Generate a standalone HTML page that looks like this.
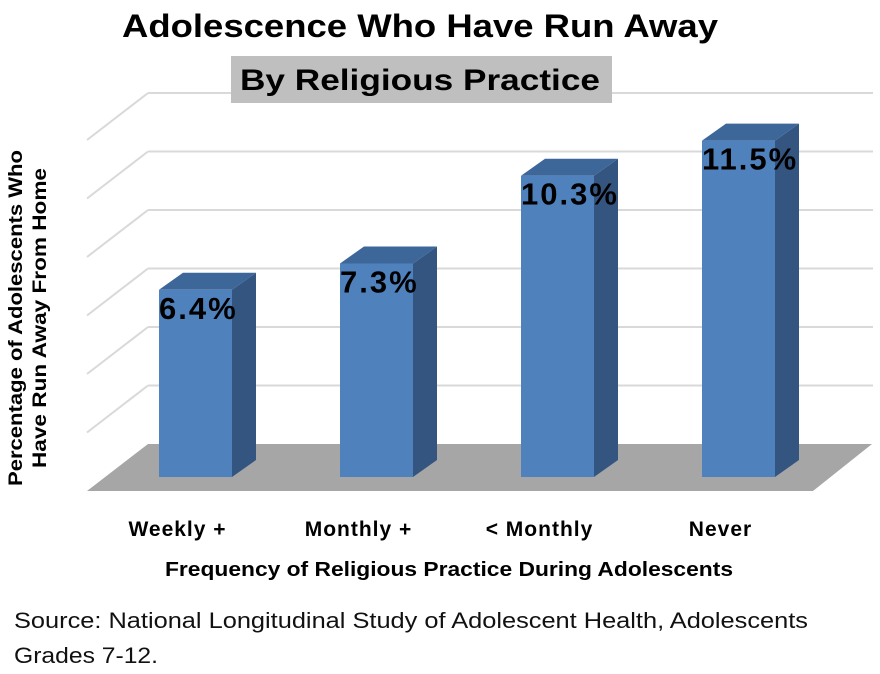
<!DOCTYPE html>
<html><head><meta charset="utf-8"><style>
body{margin:0;background:#fff;width:880px;height:674px;overflow:hidden;font-family:"Liberation Sans",sans-serif}
svg{display:block}
</style></head><body>
<svg width="880" height="674" viewBox="0 0 880 674">
<g id="grid"></g>
<text x="122" y="37" textLength="596" lengthAdjust="spacingAndGlyphs" font-size="32" font-weight="bold">Adolescence Who Have Run Away</text>
<rect x="231" y="56" width="381" height="47" fill="#bfbfbf"/>
<text x="240" y="90" textLength="360" lengthAdjust="spacingAndGlyphs" font-size="30" font-weight="bold">By Religious Practice</text>
<polygon points="148,444 872,444 813,491 87,491" fill="#a6a6a6"/>
<g id="bars"></g>
<g id="xlabels"></g>
<text transform="translate(22,318) rotate(-90)" text-anchor="middle" font-size="19" font-weight="bold"><tspan x="0" y="0" textLength="336" lengthAdjust="spacingAndGlyphs">Percentage of Adolescents Who</tspan><tspan x="0" y="24" textLength="300" lengthAdjust="spacingAndGlyphs">Have Run Away From Home</tspan></text>
<text x="165" y="576" textLength="568" lengthAdjust="spacingAndGlyphs" font-size="20" font-weight="bold">Frequency of Religious Practice During Adolescents</text>
<text x="14" y="628" textLength="794" lengthAdjust="spacingAndGlyphs" font-size="22" fill="#111">Source:  National Longitudinal Study of Adolescent Health, Adolescents</text>
<text x="14" y="663" textLength="144" lengthAdjust="spacingAndGlyphs" font-size="22" fill="#111">Grades 7-12.</text>
</svg>
<script>
const categories=["Weekly +","Monthly +","< Monthly","Never"];
const values=[6.4,7.3,10.3,11.5];
const labels=["6.4%","7.3%","10.3%","11.5%"];
const gridTicks=[0,2,4,6,8,10,12];
const NS="http://www.w3.org/2000/svg";
function mk(t,a){const e=document.createElementNS(NS,t);for(const k in a)e.setAttribute(k,a[k]);return e;}
const backFloor=444, pxPer=29.25;
function yBack(v){return backFloor-v*pxPer;}
const frontFloor=477;
function yFront(v){return frontFloor-v*pxPer;}
function xBar(i){return 159+i*181;}
const grid=document.getElementById('grid');
gridTicks.forEach(t=>{if(t===0)return;const y=yBack(t);
const l=mk('line',{x1:148,y1:y,x2:873,y2:y,stroke:'#d9d9d9','stroke-width':2});


grid.appendChild(l);
const d=mk('line',{x1:148,y1:y,x2:87,y2:y+47,stroke:'#d9d9d9','stroke-width':2});


grid.appendChild(d);});
const bars=document.getElementById('bars'),xl=document.getElementById('xlabels');
const w=73,dx=24,dy=17;
values.forEach((v,i)=>{const x=xBar(i),yt=yFront(v),yb=frontFloor;
const g=mk('g',{});


g.appendChild(mk('polygon',{points:`${x+w},${yt} ${x+w+dx},${yt-dy} ${x+w+dx},${yb-dy} ${x+w},${yb}`,fill:'#34557f'}));
g.appendChild(mk('polygon',{points:`${x},${yt} ${x+dx},${yt-dy} ${x+w+dx},${yt-dy} ${x+w},${yt}`,fill:'#3d6699'}));
g.appendChild(mk('rect',{x:x,y:yt,width:w,height:yb-yt,fill:'#4f81bd'}));
bars.appendChild(g);
const t=mk('text',{x:x,y:yt+29,'font-size':31,'font-weight':'bold',fill:'#000','letter-spacing':2});
t.textContent=labels[i];


bars.appendChild(t);
const c=mk('text',{x:x+w/2-18,y:536,'text-anchor':'middle','font-size':21,'font-weight':'bold','letter-spacing':1});
c.textContent=categories[i];


xl.appendChild(c);});
</script>
</body></html>
